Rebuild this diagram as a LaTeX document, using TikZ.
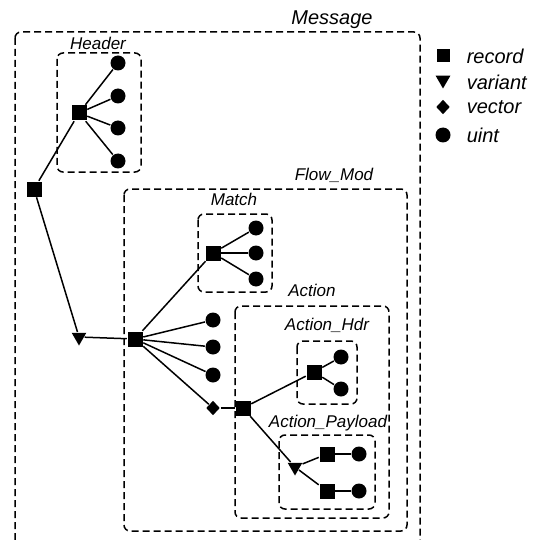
\documentclass[tikz,border=0pt]{standalone}
\usepackage{fontspec}
\setmainfont{Liberation Sans}
\usetikzlibrary{positioning,shapes.geometric}

\begin{document}
\begin{tikzpicture}[x=1pt,y=-1pt,line width=1.5pt,
        record/.style={rectangle,fill=black,minimum size=15pt,inner sep=0pt},
        variant/.style={regular polygon,regular polygon sides=3,shape border rotate=180,fill=black,minimum size=17pt,inner sep=0pt},
        vector/.style={diamond,fill=black,minimum width=14pt,minimum height=15pt,inner sep=0pt},
        uint/.style={circle,fill=black,minimum size=15pt,inner sep=0pt},
        grp/.style={draw,line width=1.5pt,dash pattern=on 7pt off 4pt,rounded corners=6pt},
        grplabel/.style={font=\fontsize{17}{20}\selectfont\itshape,inner sep=0pt},
        biglabel/.style={font=\fontsize{20}{24}\selectfont\itshape,inner sep=0pt}]
        \clip (0,0) rectangle (538,540);

        % groups
        \draw[grp] (15,32) rectangle (420,560);
        \node[biglabel] (msglbl) at (332,20) {Message};
        \draw[grp] (57,53) rectangle (141,172);
        \node[grplabel] (hdrlbl) at (98,43) {Header};
        \draw[grp] (124,189) rectangle (407,531);
        \node[grplabel] (fmlbl) at (334,175) {Flow\_Mod};
        \draw[grp] (198,214) rectangle (272,292);
        \node[grplabel] (matchlbl) at (234,199) {Match};
        \draw[grp] (235,306) rectangle (389,518);
        \node[grplabel] (actlbl) at (312,290) {Action};
        \draw[grp] (297,341) rectangle (357,404);
        \node[grplabel] (ahlbl) at (327,325) {Action\_Hdr};
        \draw[grp] (279,435) rectangle (375,509);
        \node[grplabel] (aplbl) at (328,423) {Action\_Payload};

        % Message
        \node[record] (root) at (34,189) {};
        \node[record] (hdr) at (79,113) {};
        \foreach \i/\y in {1/63,2/96,3/128,4/161} {
                \node[uint] (h\i) at (118,\y) {};
                \draw (hdr) -- (h\i);
        }
        \node[variant] (var) at (79,337) {};
        \draw (root) -- (hdr);
        \draw (root) -- (var);

        % Flow_Mod
        \node[record] (fm) at (135,339) {};
        \draw (var) -- (fm);
        \node[record] (mrec) at (213,253) {};
        \draw (fm) -- (mrec);
        \foreach \i/\y in {1/228,2/253,3/279} {
                \node[uint] (m\i) at (256,\y) {};
                \draw (mrec) -- (m\i);
        }
        \foreach \i/\y in {1/320,2/347,3/375} {
                \node[uint] (f\i) at (213,\y) {};
                \draw (fm) -- (f\i);
        }
        \node[vector] (vec) at (213,408) {};
        \draw (fm) -- (vec);

        % Action
        \node[record] (act) at (243,408) {};
        \draw (vec) -- (act);
        \node[record] (ahrec) at (314,372) {};
        \node[uint] (ah1) at (341,357) {};
        \node[uint] (ah2) at (341,389) {};
        \draw (act) -- (ahrec);
        \draw (ahrec) -- (ah1);
        \draw (ahrec) -- (ah2);
        \node[variant] (apvar) at (295,467) {};
        \node[record] (ap1) at (327,454) {};
        \node[record] (ap2) at (327,491) {};
        \node[uint] (ap1u) at (359,454) {};
        \node[uint] (ap2u) at (359,491) {};
        \draw (act) -- (apvar);
        \draw (apvar) -- (ap1);
        \draw (apvar) -- (ap2);
        \draw (ap1) -- (ap1u);
        \draw (ap2) -- (ap2u);

        % legend
        \node[record,minimum size=13pt] (legrec) at (443,56) {};
        \node[variant] (legvar) at (443,80) {};
        \node[vector] (legvec) at (443,107) {};
        \node[uint,minimum size=15pt] (leguint) at (443,135) {};
        \node[biglabel,anchor=west] at (466,56) {record};
        \node[biglabel,anchor=west] at (466,82) {variant};
        \node[biglabel,anchor=west] at (466,107) {vector};
        \node[biglabel,anchor=west] at (466,135) {uint};
\end{tikzpicture}
\end{document}
